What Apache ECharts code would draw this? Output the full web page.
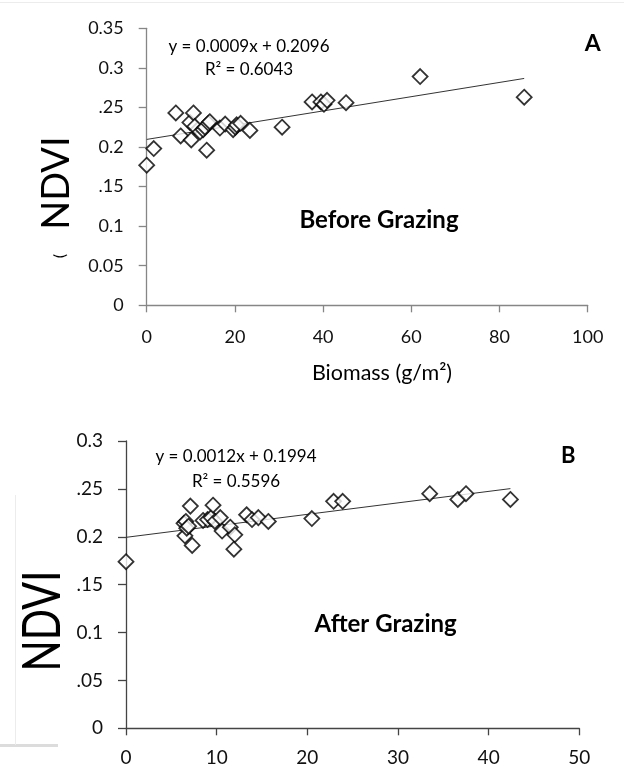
<!DOCTYPE html>
<html>
<head>
<meta charset="utf-8">
<title>NDVI vs Biomass</title>
<script src="https://cdn.jsdelivr.net/npm/echarts@6/dist/echarts.min.js"></script>
<style>
  html, body { margin: 0; padding: 0; background: #fff; }
  #main { width: 624px; height: 772px; }
</style>
</head>
<body>
<div id="main"></div>
<script>
// A: before grazing
var beforeX = [0, 1.6, 6.6, 7.7, 9.8, 10.1, 10.6, 10.9, 12.1, 12.8, 13.2, 13.6, 14.0, 14.3, 16.6, 17.8, 19.6, 20.1, 20.4, 21.3, 23.4, 30.7, 37.5, 39.5, 40.2, 40.9, 45.2, 62.0, 85.6];
var beforeY = [0.177, 0.198, 0.243, 0.214, 0.231, 0.209, 0.243, 0.226, 0.219, 0.222, 0.225, 0.196, 0.230, 0.232, 0.224, 0.229, 0.222, 0.225, 0.228, 0.230, 0.221, 0.225, 0.257, 0.257, 0.254, 0.259, 0.256, 0.289, 0.263];
var beforeFit = { slope: 0.0009, intercept: 0.2096, xFrom: 0, xTo: 85.6 };
var beforeYLabels = ['0', '0.05', '0.1', '.15', '0.2', '.25', '0.3', '0.35'];
var beforeXLabels = ['0', '20', '40', '60', '80', '100'];

// B: after grazing
var afterX = [0, 6.4, 6.5, 6.6, 6.7, 6.9, 7.1, 7.3, 8.5, 9.0, 9.4, 9.6, 9.8, 10.4, 10.6, 11.5, 12.0, 11.9, 13.3, 13.9, 14.6, 15.7, 20.5, 22.9, 23.9, 33.5, 36.6, 37.5, 42.4];
var afterY = [0.174, 0.214, 0.201, 0.216, 0.209, 0.211, 0.232, 0.191, 0.217, 0.218, 0.220, 0.233, 0.216, 0.220, 0.206, 0.210, 0.202, 0.187, 0.223, 0.218, 0.220, 0.216, 0.219, 0.237, 0.237, 0.245, 0.239, 0.245, 0.239];
var afterFit = { slope: 0.0012, intercept: 0.1994, xFrom: 0, xTo: 42.4 };
var afterYLabels = ['0', '.05', '0.1', '.15', '0.2', '.25', '0.3'];
var afterXLabels = ['0', '10', '20', '30', '40', '50'];

var FONT = 'Lato, "Open Sans", sans-serif';

function pairs(xs, ys) {
  return xs.map(function (x, i) { return [x, ys[i]]; });
}
function fitLine(f) {
  return [[f.xFrom, f.slope * f.xFrom + f.intercept], [f.xTo, f.slope * f.xTo + f.intercept]];
}

function xAxisOf(idx, max, interval, labels, color, margin, size) {
  return {
    gridIndex: idx, type: 'value', min: 0, max: max, interval: interval,
    axisLine: { onZero: false, lineStyle: { color: color, width: 1.3 } },
    axisTick: { show: true, length: 7, lineStyle: { color: color, width: 1.3 } },
    axisLabel: { margin: margin, color: '#111', fontFamily: FONT, fontSize: size,
      formatter: function (v, i) { return labels[i]; } },
    splitLine: { show: false }
  };
}
function yAxisOf(idx, max, labels, color, size) {
  return {
    gridIndex: idx, type: 'value', min: 0, max: max, interval: 0.05,
    axisLine: { show: true, onZero: false, lineStyle: { color: color, width: 1.3 } },
    axisTick: { show: true, length: 8, lineStyle: { color: color, width: 1.3 } },
    axisLabel: { margin: 23, color: '#111', fontFamily: FONT, fontSize: size,
      formatter: function (v, i) { return labels[i]; } },
    splitLine: { show: false }
  };
}
function scatterOf(idx, data) {
  return {
    type: 'scatter', xAxisIndex: idx, yAxisIndex: idx, data: data,
    symbol: 'diamond', symbolSize: 15, silent: true,
    itemStyle: { color: '#fff', borderColor: '#000', borderWidth: 1.8 }, z: 3
  };
}
function trendOf(idx, data) {
  return {
    type: 'line', xAxisIndex: idx, yAxisIndex: idx, data: data,
    symbol: 'none', silent: true,
    lineStyle: { color: '#333', width: 1 }, z: 2
  };
}
function txt(x, y, text, font, extra) {
  var el = { type: 'text', x: x, y: y, z: 20,
    style: { text: text, font: font, fill: '#000', align: 'center', verticalAlign: 'middle' } };
  for (var k in extra) el[k] = extra[k];
  return el;
}

var option = {
  animation: false,
  backgroundColor: '#fff',
  grid: [
    { left: 146.7, top: 28.3, width: 441, height: 277 },
    { left: 126, top: 441, width: 453.3, height: 287.3 }
  ],
  xAxis: [
    xAxisOf(0, 100, 20, beforeXLabels, '#868686', 23, 18),
    xAxisOf(1, 50, 10, afterXLabels, '#444', 20, 19)
  ],
  yAxis: [
    yAxisOf(0, 0.35, beforeYLabels, '#868686', 18),
    yAxisOf(1, 0.3, afterYLabels, '#444', 19)
  ],
  series: [
    trendOf(0, fitLine(beforeFit)),
    scatterOf(0, pairs(beforeX, beforeY)),
    trendOf(1, fitLine(afterFit)),
    scatterOf(1, pairs(afterX, afterY))
  ],
  graphic: [
    // faint frame edges left over in the original figure
    { type: 'rect', shape: { x: 0, y: 2, width: 624, height: 1 }, style: { fill: '#ececec' }, z: 1 },
    { type: 'rect', shape: { x: 0, y: 744, width: 58, height: 3 }, style: { fill: '#dcdcdc' }, z: 1 },
    { type: 'rect', shape: { x: 15, y: 495, width: 1, height: 250 }, style: { fill: '#ececec' }, z: 1 },

    txt(56.7, 183, 'NDVI', '400 38px ' + FONT, { rotation: Math.PI / 2 }),
    txt(43, 621, 'NDVI', '400 41px ' + FONT, { rotation: Math.PI / 2, scaleY: 1.25 }),
    txt(60, 256, '(', '400 16px ' + FONT, { rotation: Math.PI / 2 }),

    txt(249, 46.7, 'y = 0.0009x + 0.2096', '400 17px ' + FONT),
    txt(249, 70, 'R\u00b2 = 0.6043', '400 17px ' + FONT),
    txt(592.7, 43.3, 'A', 'bold 23px ' + FONT),
    txt(379, 220, 'Before Grazing', 'bold 24px ' + FONT),
    txt(382, 373, 'Biomass (g/m\u00b2)', '400 21.5px ' + FONT),

    txt(236, 456.7, 'y = 0.0012x + 0.1994', '400 17px ' + FONT),
    txt(236, 481.7, 'R\u00b2 = 0.5596', '400 17px ' + FONT),
    txt(568.3, 456, 'B', 'bold 22px ' + FONT),
    txt(385.6, 624, 'After Grazing', 'bold 24px ' + FONT)
  ]
};

var chart = echarts.init(document.getElementById('main'));
chart.setOption(option);
</script>
</body>
</html>
